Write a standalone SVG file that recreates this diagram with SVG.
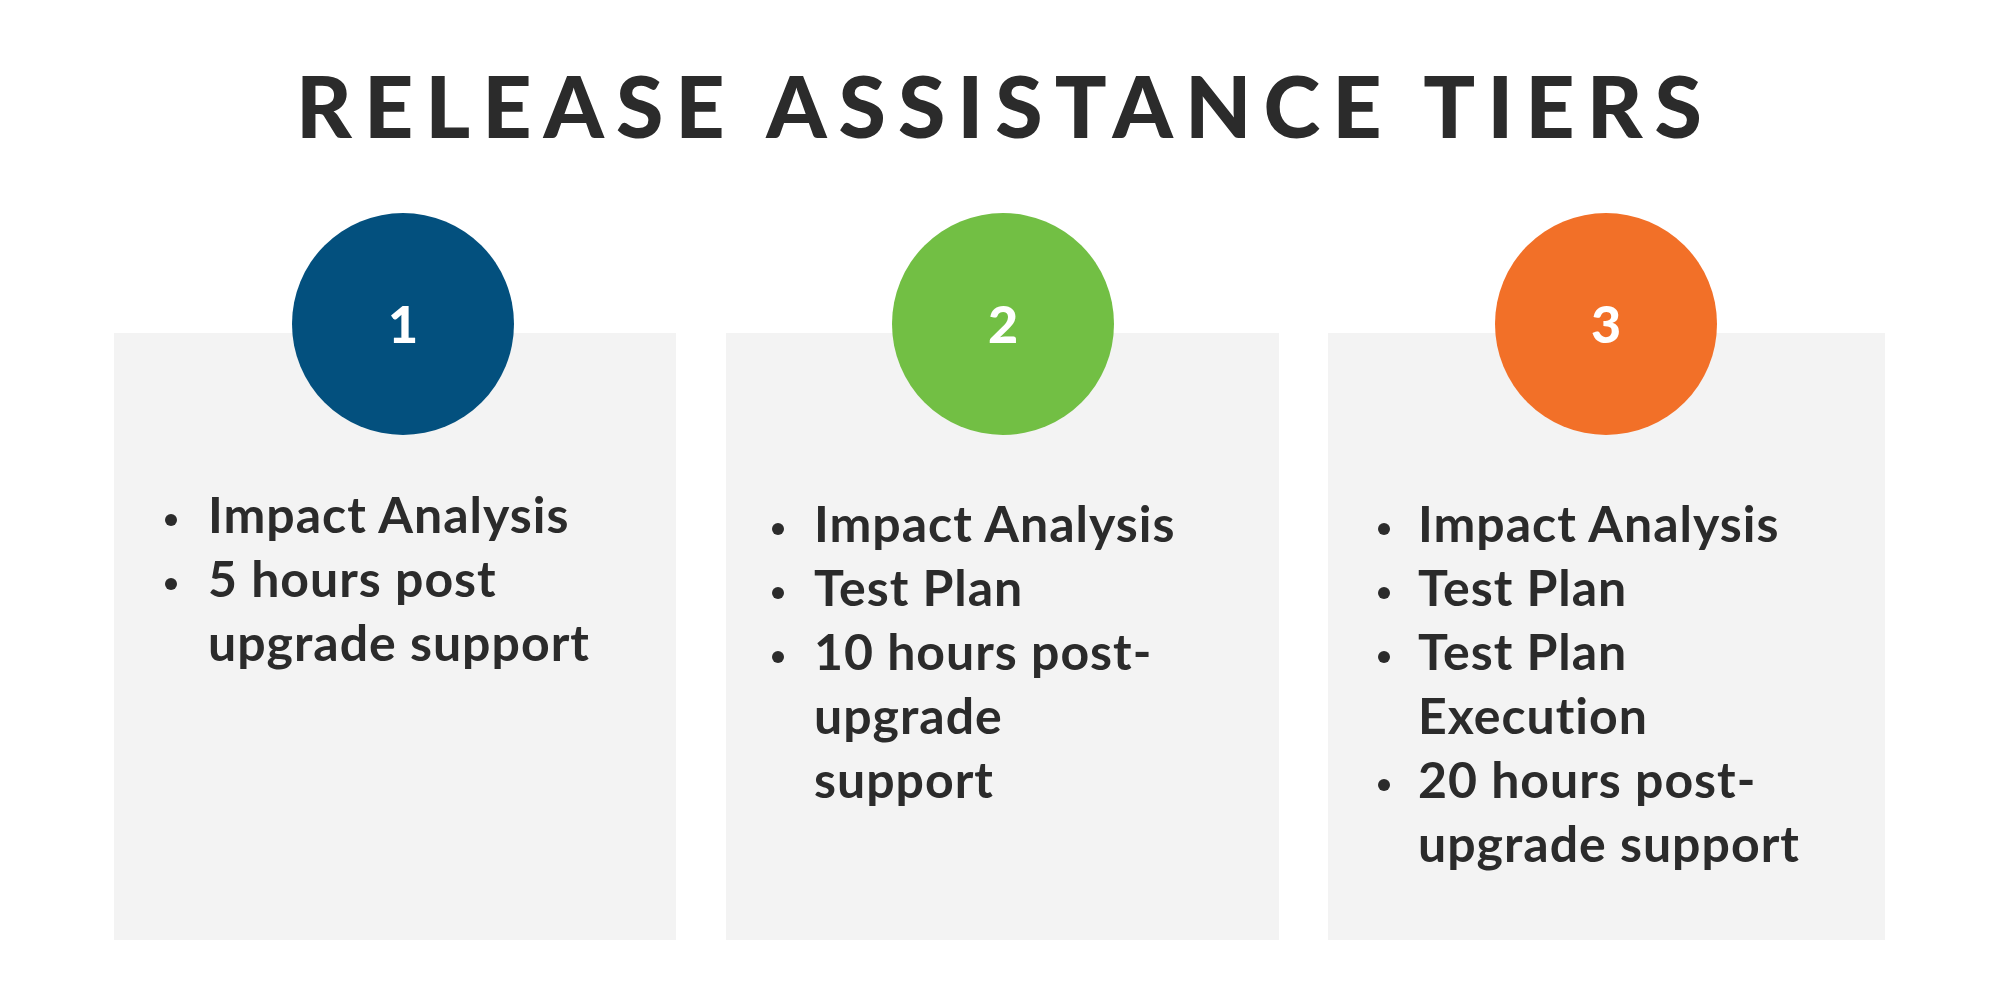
<svg xmlns="http://www.w3.org/2000/svg" width="2000" height="1000" viewBox="0 0 2000 1000">
<style>
.box{fill:#f3f3f3}
.num{font-family:Lato,"Liberation Sans",sans-serif;font-weight:900;font-size:52px;fill:#fff;text-anchor:middle}
.t{font-family:Lato,"Liberation Sans",sans-serif;font-weight:700;font-size:50px;fill:#2b2b2b;letter-spacing:1px}
.b{fill:#2b2b2b}
</style>
<rect width="2000" height="1000" fill="#fff"/>
<text x="1005" y="138" text-anchor="middle" font-family="Lato,'Liberation Sans',sans-serif" font-weight="900" font-size="86" fill="#2b2b2b" letter-spacing="12">RELEASE ASSISTANCE TIERS</text>
<g id="tier1">
<rect class="box" x="114" y="333" width="562" height="607"/>
<circle cx="403" cy="324" r="111" fill="#03507e"/>
<text class="num" x="403" y="343">1</text>
<circle class="b" cx="171" cy="520" r="6"/><circle class="b" cx="171" cy="584" r="6"/>
<text class="t" x="208" y="533">Impact Analysis</text>
<text class="t" x="208" y="597">5 hours post</text>
<text class="t" x="208" y="661">upgrade support</text>
</g>
<g id="tier2">
<rect class="box" x="726" y="333" width="553" height="607"/>
<circle cx="1003" cy="324" r="111" fill="#72bf44"/>
<text class="num" x="1003" y="343">2</text>
<circle class="b" cx="778" cy="529" r="6"/><circle class="b" cx="778" cy="593" r="6"/><circle class="b" cx="778" cy="657" r="6"/>
<text class="t" x="814" y="542">Impact Analysis</text>
<text class="t" x="814" y="606">Test Plan</text>
<text class="t" x="814" y="670">10 hours post-</text>
<text class="t" x="814" y="734">upgrade</text>
<text class="t" x="814" y="798">support</text>
</g>
<g id="tier3">
<rect class="box" x="1328" y="333" width="557" height="607"/>
<circle cx="1606" cy="324" r="111" fill="#f27028"/>
<text class="num" x="1606" y="343">3</text>
<circle class="b" cx="1384" cy="529" r="6"/><circle class="b" cx="1384" cy="593" r="6"/><circle class="b" cx="1384" cy="657" r="6"/><circle class="b" cx="1384" cy="785" r="6"/>
<text class="t" x="1418" y="542">Impact Analysis</text>
<text class="t" x="1418" y="606">Test Plan</text>
<text class="t" x="1418" y="670">Test Plan</text>
<text class="t" x="1418" y="734">Execution</text>
<text class="t" x="1418" y="798">20 hours post-</text>
<text class="t" x="1418" y="862">upgrade support</text>
</g>
<g id="connectors"/>
</svg>
